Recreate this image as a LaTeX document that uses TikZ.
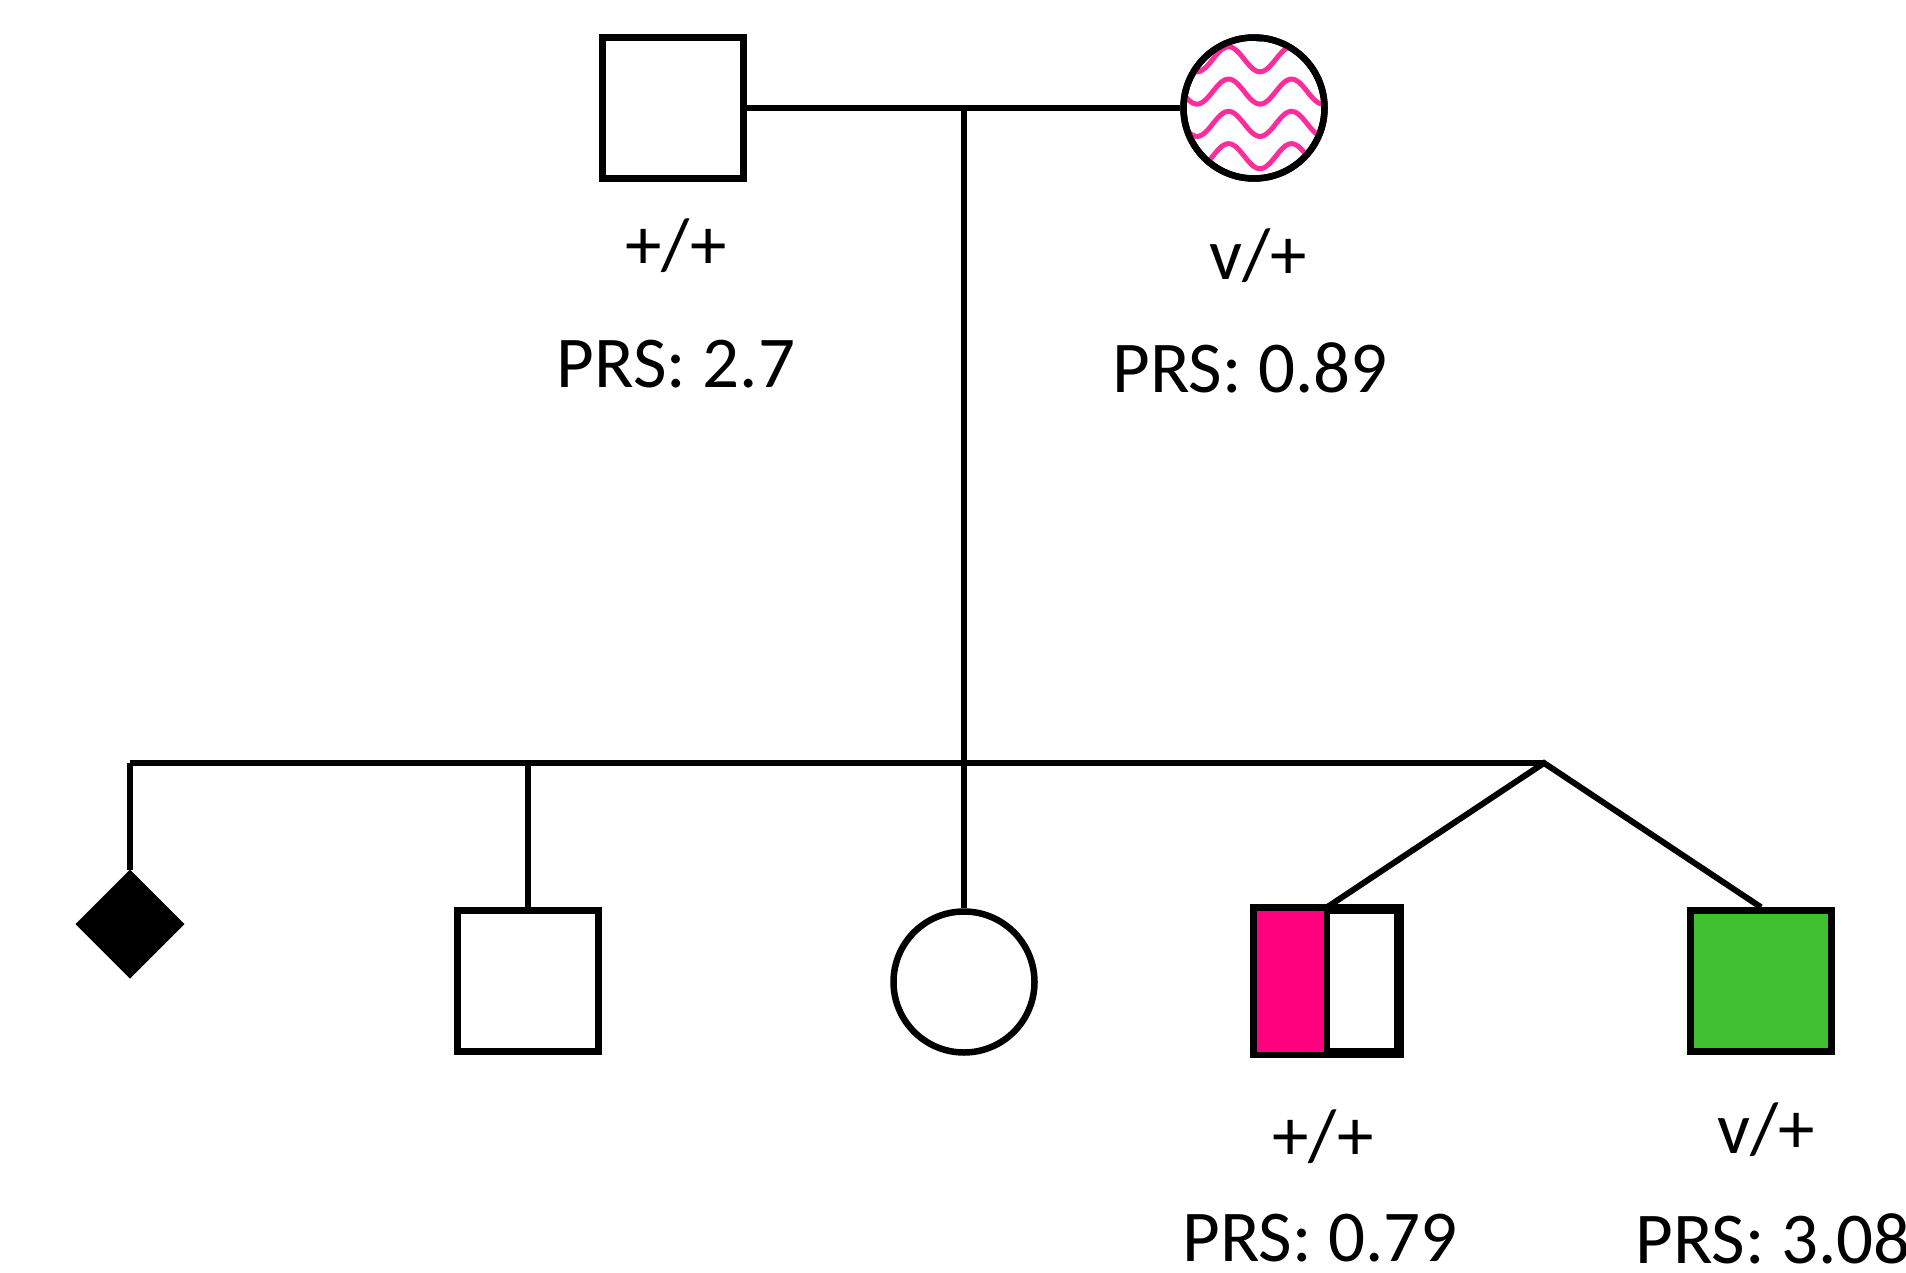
\documentclass[tikz,border=0pt]{standalone}
\usepackage{fontspec}
\setmainfont{Carlito}
\usetikzlibrary{shapes.geometric}

\definecolor{carrierpink}{RGB}{255,0,127}
\definecolor{wavepink}{RGB}{255,45,155}
\definecolor{affgreen}{RGB}{64,191,48}

\tikzset{
  pedline/.style={line width=6pt, black},
  male/.style={draw, line width=6.5pt, rectangle, minimum size=141pt, inner sep=0pt},
  female/.style={draw, line width=6.5pt, circle, minimum size=141pt, inner sep=0pt},
  unknownsex/.style={draw, fill=black, line width=3pt, diamond, aspect=1, minimum size=106pt, inner sep=0pt},
  label/.style={font=\fontsize{73}{87}\selectfont, anchor=base, inner sep=0pt},
  wave/.style={line width=5pt, wavepink}
}

\begin{document}
\begin{tikzpicture}[x=1pt, y=-1pt]
  \fill[white] (0,0) rectangle (1906,1273);
  \useasboundingbox (0,0) rectangle (1906,1273);

  % parents
  \node[male] (father) at (673,108) {};
  \node[female] (mother) at (1254,108) {};

  % wavy fill for the mother (wavelength 63pt, 32pt between rows)
  \begin{scope}
    \clip (mother.center) circle (70pt);
    \foreach \m in {27,59.3,91.6,123.9,156.2} {
      \draw[wave] plot[domain=1170:1350, samples=181, smooth]
        (\x, {\m + 12.5*cos(5.7143*(\x-1260))});
    }
  \end{scope}
  \draw[line width=6.5pt] (mother.center) circle (70.5pt);

  % marriage and descent lines
  \coordinate (union) at (964,108);
  \coordinate (sibL) at (130,763);
  \coordinate (sibS) at (528,763);
  \coordinate (sibM) at (964,763);
  \coordinate (twin) at (1544,763);
  \draw[pedline] (father.east) -- (mother.west);
  \draw[pedline] (union) -- (sibM);
  \draw[pedline] (sibL) -- (twin);

  % children
  \node[unknownsex] (child1) at (130,924) {};
  \node[male] (child2) at (528,981) {};
  \node[female] (child3) at (964,982) {};
  \node[male] (child4) at (1327,981) {};
  \node[male, fill=affgreen] (child5) at (1761,981) {};

  % half-shaded twin
  \fill[carrierpink] (child4.north west) rectangle (child4.south);
  \draw[line width=6.5pt] (child4.north west) rectangle (child4.south east);
  \draw[line width=6.5pt] (child4.north) -- (child4.south);

  \draw[pedline] (sibL) -- (child1.north);
  \draw[pedline] (sibS) -- (child2.north);
  \draw[pedline] (sibM) -- (child3.north);
  \draw[pedline, line join=miter] (child4.north) -- (twin) -- (child5.north);

  % genotypes and scores
  \node[label] (g1) at (676,270) {+/+};
  \node[label] (p1) at (676,387) {PRS: 2.7};
  \node[label] (g2) at (1258,280) {v/+};
  \node[label] (p2) at (1250,392) {PRS: 0.89};
  \node[label] (g4) at (1323,1160) {+/+};
  \node[label] (p4) at (1320,1261) {PRS: 0.79};
  \node[label] (g5) at (1766,1153) {v/+};
  \node[label] (p5) at (1773,1263) {PRS: 3.08};
\end{tikzpicture}
\end{document}
